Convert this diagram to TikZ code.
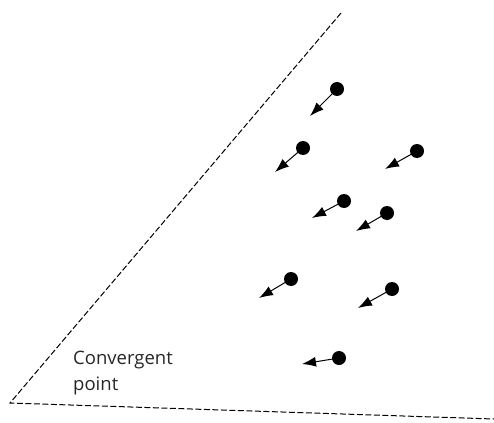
\documentclass[tikz,border=0pt]{standalone}
\usepackage{fontspec}
\setmainfont{Open Sans}
\usetikzlibrary{arrows.meta}
\begin{document}
\begin{tikzpicture}[x=1pt,y=-1pt,
  particle/.style={circle,fill=black,inner sep=0pt,minimum size=14pt},
  motion/.style={line width=1pt,-{Latex[length=14pt,width=10pt]},shorten <=-1pt},
  edge/.style={line width=1pt,dash pattern=on 6pt off 2.5pt}]
\useasboundingbox (0,0) rectangle (494,422);
\coordinate (apex) at (10,403);
\coordinate (top) at (341,13);
\coordinate (right) at (494,419);
\draw[edge] (top) -- (apex) -- (right);
\node[align=left,anchor=base west,font=\fontsize{18.5pt}{26pt}\selectfont,text=black!85,inner sep=0pt] (lbl) at (73,390) {Convergent\\point};
\foreach \n/\dx/\dy/\tx/\ty in {1/337/89/310/116, 2/303/148/275/172, 3/417/151/385/169, 4/344/201/312/218, 5/387/213/356/231, 6/291/279/259/298, 7/392/289/358/308, 8/339/358/302/364}{
  \node[particle] (p\n) at (\dx,\dy) {};
  \coordinate (t\n) at (\tx,\ty);
  \draw[motion] (p\n) -- (t\n);
}
\end{tikzpicture}
\end{document}
